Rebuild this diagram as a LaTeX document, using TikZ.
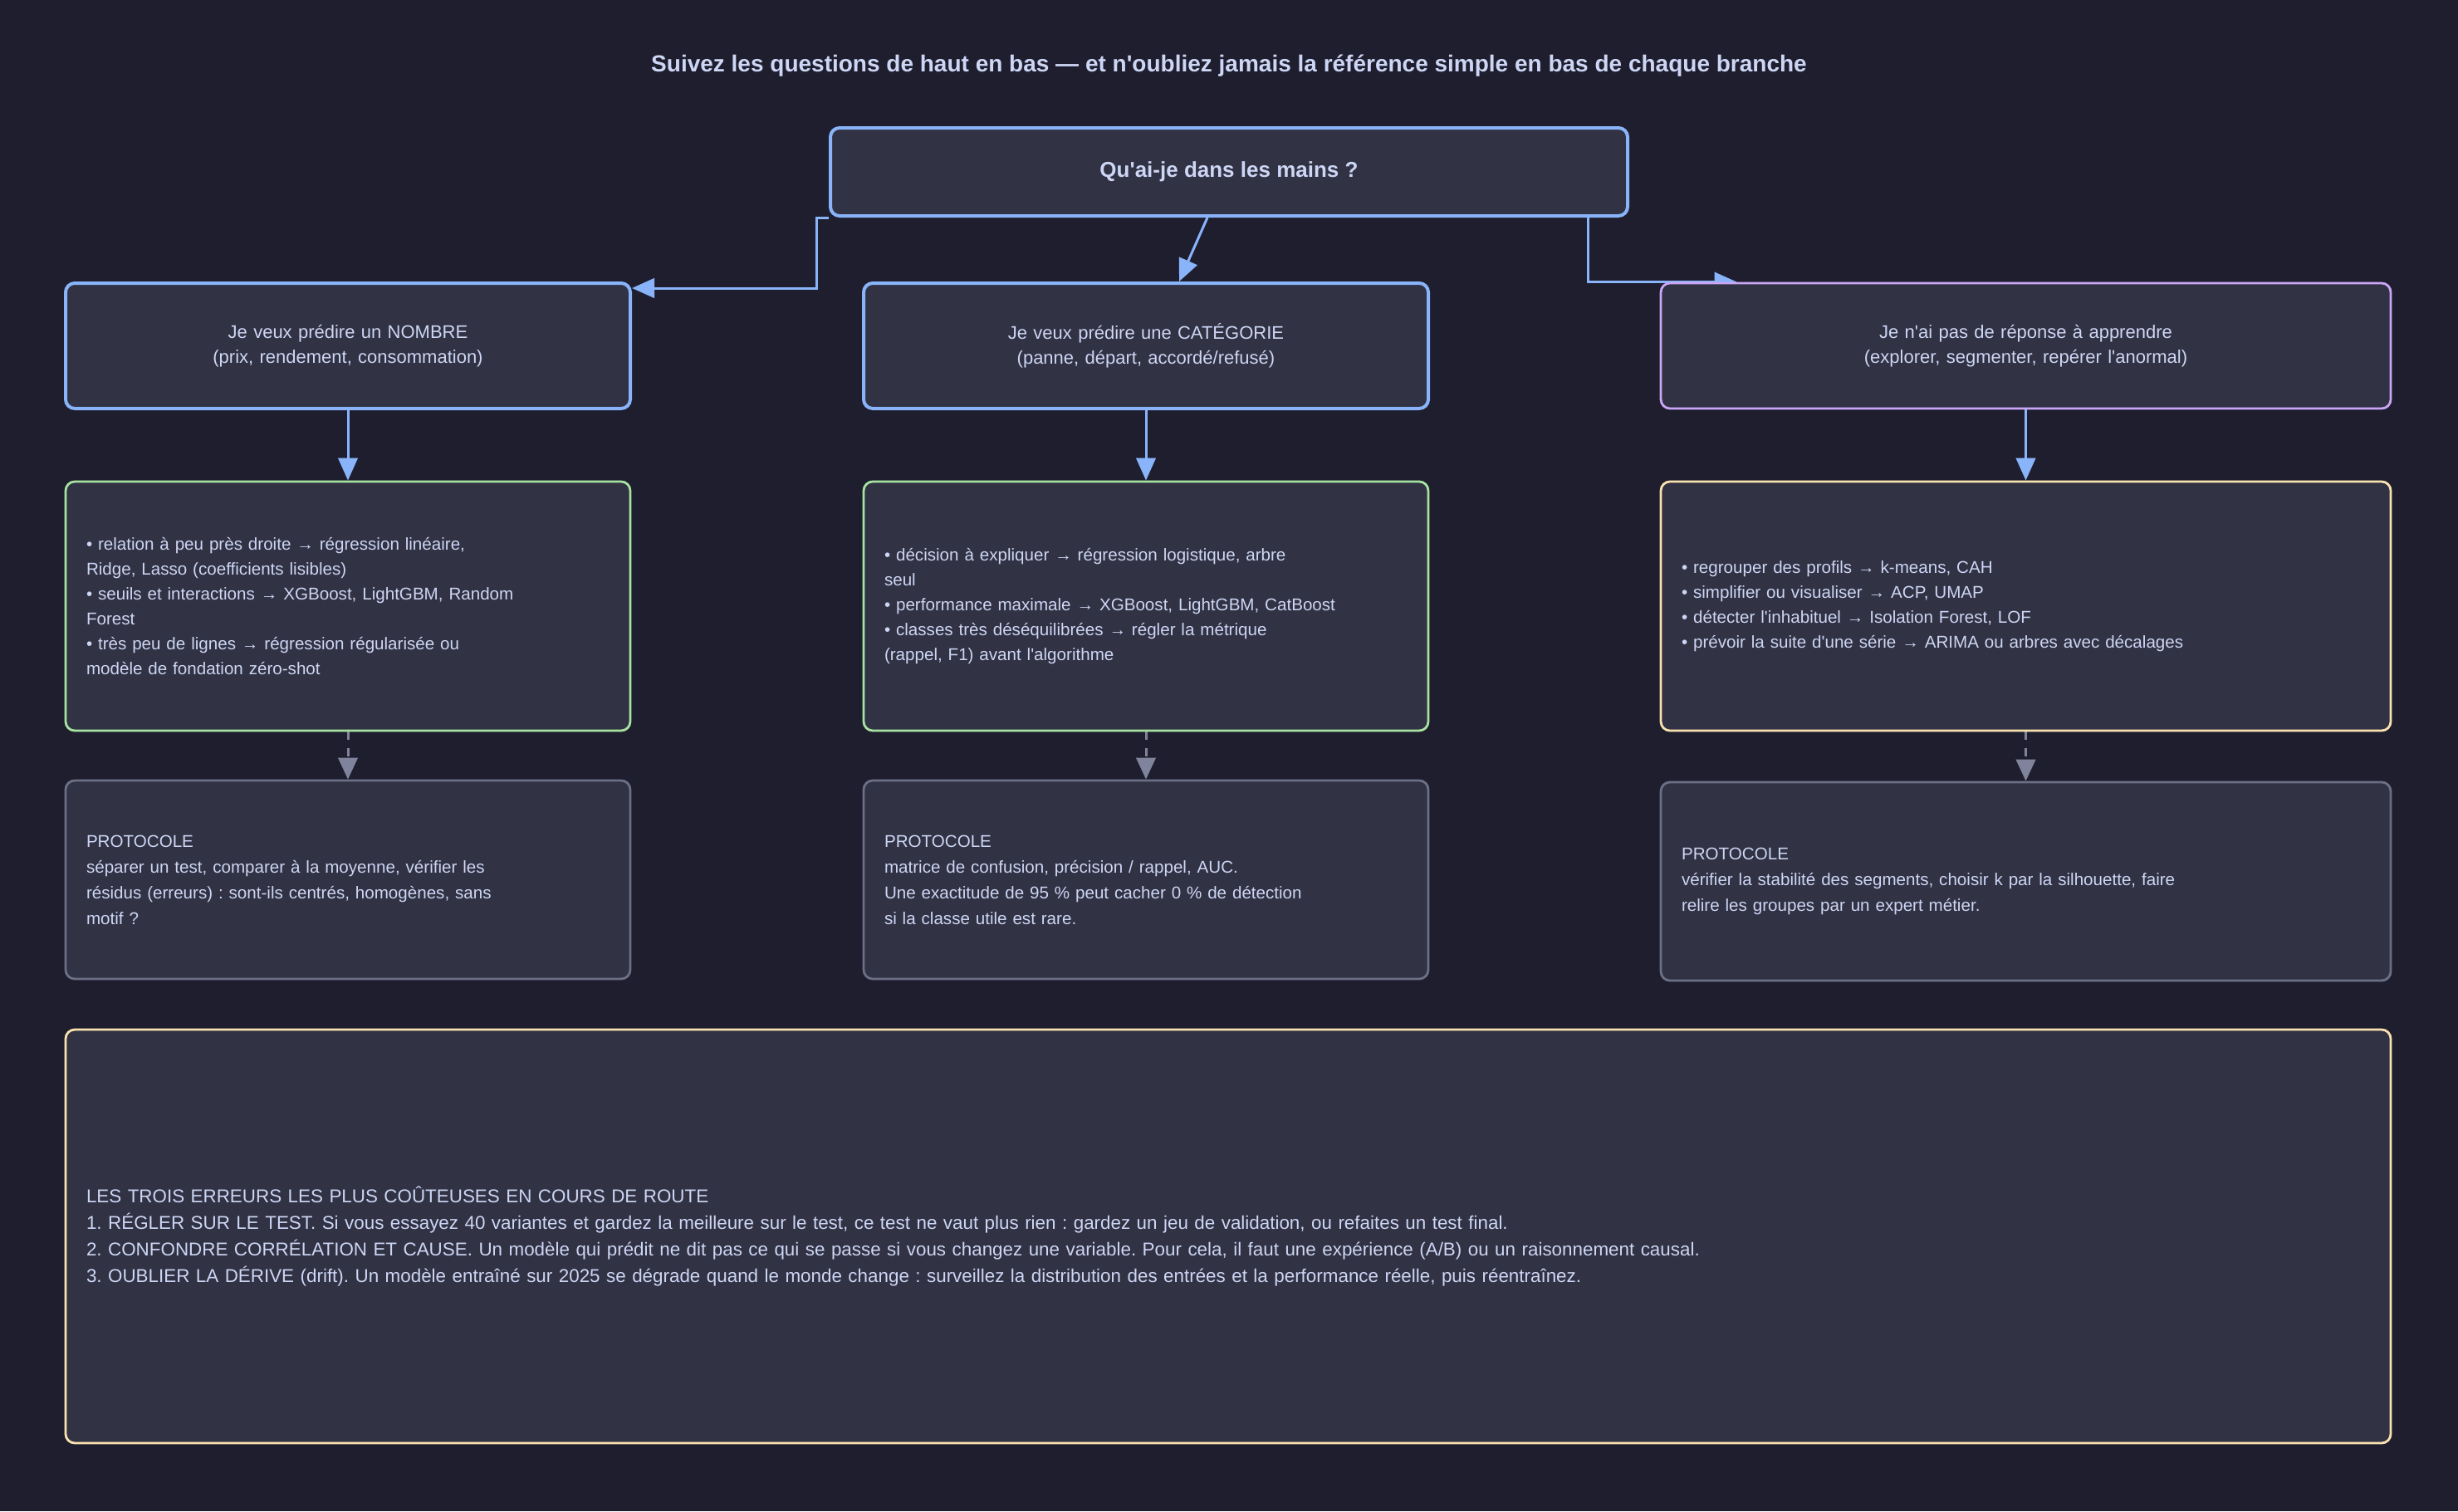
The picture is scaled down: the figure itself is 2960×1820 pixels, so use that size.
\documentclass[tikz,border=0pt]{standalone}
\usepackage{fontspec}
\setmainfont{Liberation Sans}[Ligatures=TeXOff]
\usepackage{tikz}
\usetikzlibrary{arrows.meta}
\usetikzlibrary{positioning}
\usetikzlibrary{backgrounds}
\definecolor{basebg}{HTML}{1E1E2E}
\definecolor{surf}{HTML}{313244}
\definecolor{txt}{HTML}{CDD6F4}
\definecolor{cblue}{HTML}{89B4FA}
\definecolor{cgreen}{HTML}{A6E3A1}
\definecolor{cmauve}{HTML}{CBA6F7}
\definecolor{cyellow}{HTML}{F9E2AF}
\definecolor{cgrey}{HTML}{6C7086}
\definecolor{cdash}{HTML}{7F849C}
\frenchspacing

\begin{document}
\begin{tikzpicture}
	[x=0.5pt,y=-0.5pt,
	every node/.style={text=txt,font=\fontsize{11}{15}\selectfont},
	box/.style={draw,fill=surf,rounded corners=5.5pt,line width=1.4pt,inner ysep=0pt,inner xsep=12.5pt},
	askbox/.style={box,draw=cblue,line width=2pt,align=center,text width=315pt,minimum height=75.5pt},
	methbox/.style={box,align=left,text width=315pt,minimum height=150pt,font=\fontsize{10.3}{15}\selectfont},
	protobox/.style={box,draw=cgrey,align=left,text width=315pt,minimum height=119.5pt,font=\fontsize{10.3}{15.5}\selectfont},
	flow/.style={draw=cblue,line width=1.5pt,-{Triangle[length=13.5pt,width=11.7pt]}},
	dflow/.style={draw=cdash,line width=1.5pt,dash pattern=on 5pt off 5pt,-{Triangle[length=13pt,width=11.7pt]}}]
	\node[font=\bfseries\fontsize{14}{17}\selectfont] (titre) at (1480,79) {Suivez les questions de haut en bas — et n'oubliez jamais la référence simple en bas de chaque branche};
	\node[box,draw=cblue,line width=2pt,minimum width=480pt,minimum height=53pt,font=\bfseries\fontsize{13}{16}\selectfont] (q) at (1480,207) {Qu'ai-je dans les mains ?};
	
	\node[askbox] (num) at (419,416.5) {Je veux prédire un NOMBRE\\(prix, rendement, consommation)};
	\node[askbox] (cat) at (1380,416.5) {Je veux prédire une CATÉGORIE\\(panne, départ, accordé/refusé)};
	\node[askbox,draw=cmauve,line width=1.4pt,text width=414.5pt] (uns) at (2439.5,416.5) {Je n'ai pas de réponse à apprendre\\(explorer, segmenter, repérer l'anormal)};
	
	\node[methbox,draw=cgreen] (num2) at (419,730) {• relation à peu près droite → régression linéaire,\\Ridge, Lasso (coefficients lisibles)\\• seuils et interactions → XGBoost, LightGBM, Random\\Forest\\• très peu de lignes → régression régularisée ou\\modèle de fondation zéro-shot};
	\node[methbox,draw=cgreen] (cat2) at (1380,730) {• décision à expliquer → régression logistique, arbre\\seul\\• performance maximale → XGBoost, LightGBM, CatBoost\\• classes très déséquilibrées → régler la métrique\\(rappel, F1) avant l'algorithme};
	\node[methbox,draw=cyellow,text width=414.5pt] (uns2) at (2439.5,730) {• regrouper des profils → k-means, CAH\\• simplifier ou visualiser → ACP, UMAP\\• détecter l'inhabituel → Isolation Forest, LOF\\• prévoir la suite d'une série → ARIMA ou arbres avec décalages};
	
	\node[protobox] (num3) at (419,1059.5) {PROTOCOLE\\séparer un test, comparer à la moyenne, vérifier les\\résidus (erreurs) : sont-ils centrés, homogènes, sans\\motif ?};
	\node[protobox] (cat3) at (1380,1059.5) {PROTOCOLE\\matrice de confusion, précision / rappel, AUC.\\Une exactitude de 95 \% peut cacher 0 \% de détection\\si la classe utile est rare.};
	\node[protobox,text width=414.5pt] (uns3) at (2439.5,1061.5) {PROTOCOLE\\vérifier la stabilité des segments, choisir k par la silhouette, faire\\relire les groupes par un expert métier.};
	
	\node[box,draw=cyellow,align=left,text width=1375pt,minimum height=249pt,font=\fontsize{11.2}{16}\selectfont] (erreurs) at (1479,1489) {LES TROIS ERREURS LES PLUS COÛTEUSES EN COURS DE ROUTE\\1. RÉGLER SUR LE TEST. Si vous essayez 40 variantes et gardez la meilleure sur le test, ce test ne vaut plus rien : gardez un jeu de validation, ou refaites un test final.\\2. CONFONDRE CORRÉLATION ET CAUSE. Un modèle qui prédit ne dit pas ce qui se passe si vous changez une variable. Pour cela, il faut une expérience (A/B) ou un raisonnement causal.\\3. OUBLIER LA DÉRIVE (drift). Un modèle entraîné sur 2025 se dégrade quand le monde change : surveillez la distribution des entrées et la performance réelle, puis réentraînez.};
	
	\begin{scope}[on background layer]
	\fill[basebg] (0,0) rectangle (2960,1820);
	\coordinate (qa) at (983,347);
	\draw[flow] (q.south west) -| (qa) -- (qa -| num.east);
	\draw[flow] ([xshift=-13pt]q.south) -- ([xshift=20pt]cat.north);
	\draw[flow] ([xshift=-25pt]q.south east) |- ([xshift=46.5pt]uns.north west);
	\foreach \from/\to in {num/num2, cat/cat2, uns/uns2}
	\draw[flow] (\from) -- (\to);
	\foreach \from/\to in {num2/num3, cat2/cat3, uns2/uns3}
	\draw[dflow] (\from) -- (\to);
	\end{scope}
\end{tikzpicture}
\end{document}
